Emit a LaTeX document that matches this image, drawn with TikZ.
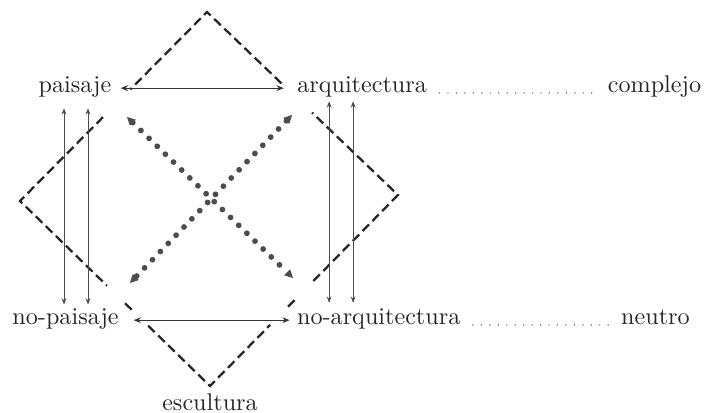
\documentclass[tikz,border=0pt]{standalone}
\usepackage{tikz}
\usetikzlibrary{arrows.meta,positioning,calc}

\begin{document}
\begin{tikzpicture}[x=0.414pt, y=-0.414pt,
  term/.style={inner sep=0pt, text height=6pt, text depth=2pt, text=black!85},
  sidedash/.style={draw=black!85, line width=0.95pt, dash pattern=on 3.8pt off 2pt},
  harrow/.style={draw=black!80, line width=0.5pt, >={Stealth[length=3pt,width=2.4pt]}, <->},
  varrow/.style={draw=black!70, line width=0.35pt, >={Stealth[length=2.6pt,width=2pt]}, <->},
  dotarrow/.style={draw=black!70, line width=2.4pt, line cap=round, dash pattern=on 0pt off 4.7pt,
    >={Triangle[length=3.4pt,width=3.4pt,line width=0.3pt]}, <->},
  leader/.style={draw=black!75, line width=0.6pt, line cap=round, dash pattern=on 0pt off 3.5pt}]
  \useasboundingbox (0,0) rectangle (706,413);

  % terms
  \node[term, anchor=base] (pai) at (75,93) {paisaje};
  \node[term] (arq) [right=76.6pt of pai] {arquitectura};
  \node[term] (compl) [right=74.5pt of arq] {complejo};
  \node[term, anchor=base west] (nopai) at (12,325) {no-paisaje};
  \node[term] (noarq) [right=73.5pt of nopai] {no-arquitectura};
  \node[term] (neut) [right=66.2pt of noarq] {neutro};
  \node[term, anchor=base] (escu) at (210,410) {escultura};

  % corners of the dashed square
  \coordinate (T) at (207,12);
  \coordinate (L) at (20,201);
  \coordinate (B) at (210,386);
  \coordinate (R) at (398,195);
  \draw[sidedash] ($(R)!0.61!(T)$) -- (T) -- ($(T)!0.41!(L)$);
  \draw[sidedash] ($(T)!0.556!(L)$) -- (L) -- ($(L)!0.458!(B)$);
  \draw[sidedash] ($(L)!0.553!(B)$) -- ($(L)!0.589!(B)$);
  \draw[sidedash] ($(L)!0.674!(B)$) -- (B) -- ($(B)!0.32!(R)$);
  \draw[sidedash] ($(B)!0.415!(R)$) -- ($(B)!0.463!(R)$);
  \draw[sidedash] ($(B)!0.55!(R)$) -- (R) -- ($(R)!0.45!(T)$);

  % horizontal arrows
  \draw[harrow, shorten <=3.7pt, shorten >=5.4pt] (pai) -- (arq);
  \draw[harrow, shorten <=6pt, shorten >=2.9pt] (nopai) -- (noarq);

  % vertical arrows
  \coordinate (vl1) at ($(pai.south)+(-11,10)$);
  \coordinate (vl2) at ($(pai.south)+(13,10)$);
  \coordinate (vr1) at ($(arq.south)+(-33,3)$);
  \coordinate (vr2) at ($(arq.south)+(-9,3)$);
  \draw[varrow, shorten >=2.3pt] (vl1) -- (vl1 |- nopai.north);
  \draw[varrow, shorten >=2.3pt] (vl2) -- (vl2 |- nopai.north);
  \draw[varrow, shorten >=3pt] (vr1) -- (vr1 |- noarq.north);
  \draw[varrow, shorten >=3pt] (vr2) -- (vr2 |- noarq.north);

  % dotted diagonals
  \coordinate (ul) at (127,117);
  \coordinate (lr) at (293,278);
  \coordinate (ur) at (292,115);
  \coordinate (ll) at (130,283);
  \draw[dotarrow] (ul) -- (lr);
  \draw[dotarrow] (ur) -- (ll);

  % leaders
  \draw[leader, yshift=0.5pt, shorten <=5pt, shorten >=5pt] (arq.base east) -- (compl.base west);
  \draw[leader, yshift=0.5pt, shorten <=5pt, shorten >=4.5pt] (noarq.base east) -- (neut.base west);
\end{tikzpicture}
\end{document}
